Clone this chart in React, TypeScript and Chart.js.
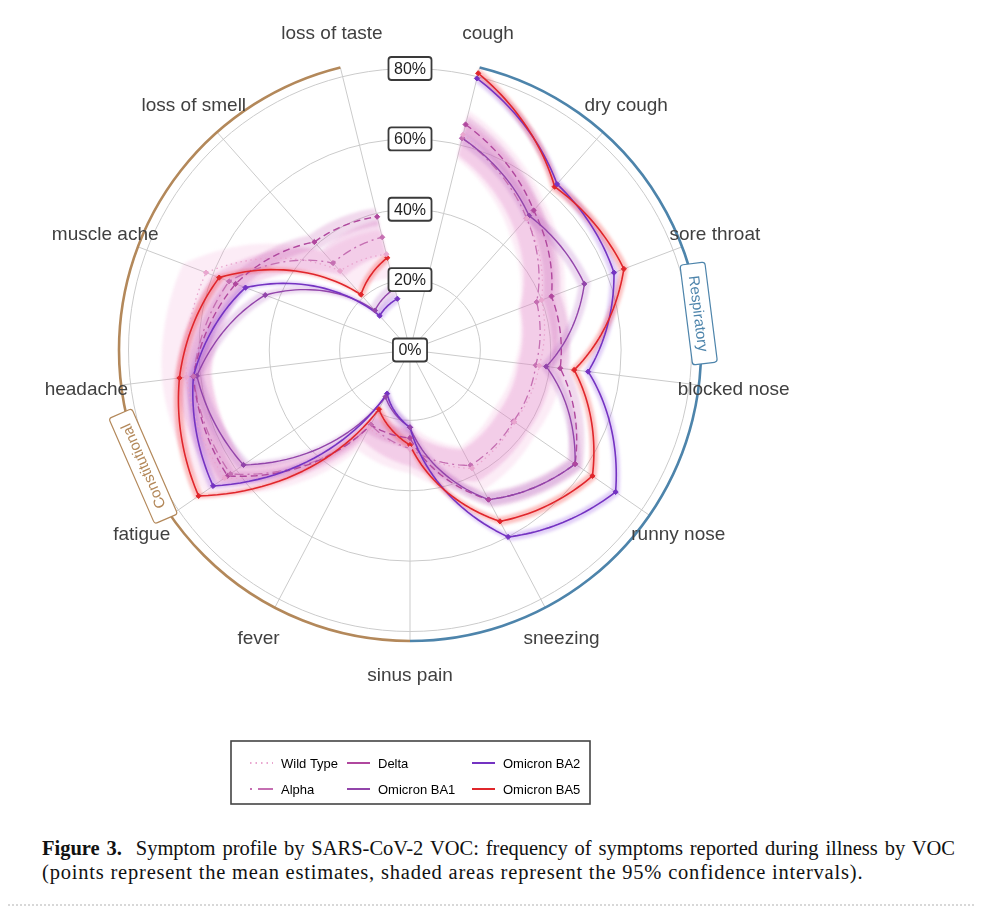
import React, { useEffect, useRef } from "react";
import { Chart, registerables } from "chart.js";

Chart.register(...registerables);

// ---------------- data ----------------
const symptoms = [
  "cough", "dry cough", "sore throat", "blocked nose", "runny nose", "sneezing",
  "sinus pain", "fever", "fatigue", "headache", "muscle ache", "loss of smell", "loss of taste",
];
const variantNames = ["Wild Type", "Alpha", "Delta", "Omicron BA1", "Omicron BA2", "Omicron BA5"];

const wildType = [63, 50, 40, 37, 36, 38, 28, 25, 64, 64, 62, 30, 28];
const alpha = [62, 50, 38.5, 36, 35.7, 37, 28, 24, 62, 62, 55, 33, 33];
const delta = [66, 53, 43, 43, 57, 48, 25, 24, 63, 62, 53, 41, 39];
const omicronBA1 = [62, 51, 53, 39, 57, 48, 22, 15, 57.5, 61, 44, 15, 18];
const omicronBA2 = [79.5, 63, 62, 51, 71, 60, 22, 14, 68, 62, 50, 13, 15];
const omicronBA5 = [81, 62, 65, 47, 63, 55, 27, 19, 73, 66, 58, 21, 27];

// 95% CI half widths (percentage points) per variant
const ciHalfWidth = [7, 5, 2.5, 1.8, 1.3, 1.3];

const tickValues = [0, 20, 40, 60, 80];
const groupNames = ["Respiratory", "Constitutional"];

// ---------------- styles ----------------
const lineColors = ["#e9a6cf", "#c56fb2", "#b0479e", "#9245aa", "#7433c2", "#e0262b"];
const bandColors = [
  "rgba(240,150,205,0.18)",
  "rgba(220,115,195,0.26)",
  "rgba(190,80,175,0.22)",
  "rgba(170,80,185,0.22)",
  "rgba(140,70,225,0.26)",
  "rgba(245,60,60,0.32)",
];
const lineDashes: number[][] = [[1.5, 3.5], [9, 4, 2, 4], [7, 4], [], [], []];
const lineWidths = [1.3, 1.3, 1.4, 1.4, 1.6, 1.6];
const seriesValues = [wildType, alpha, delta, omicronBA1, omicronBA2, omicronBA5];

const groupStyle = [
  { color: "#4d84ab", from: 0, to: 6, labelAt: 2.49 },
  { color: "#b3885a", from: 6, to: 12, labelAt: 8.4 },
];

const FONT = "'Liberation Sans', Arial, sans-serif";

// open path in polar space (straight in data space => spiral on screen)
function tracePolar(ctx: CanvasRenderingContext2D, s: any, vals: number[], reverse: boolean, start: boolean) {
  const n = vals.length;
  const steps = 24;
  const pts: { x: number; y: number }[] = [];
  for (let i = 0; i < n - 1; i++) {
    const a = vals[i];
    const b = vals[i + 1];
    for (let j = 0; j < steps; j++) {
      const t = j / steps;
      pts.push(s.getPointPositionForValue(i + t, a + (b - a) * t));
    }
  }
  pts.push(s.getPointPositionForValue(n - 1, vals[n - 1]));
  if (reverse) pts.reverse();
  pts.forEach((p, k) => (k === 0 && start ? ctx.moveTo(p.x, p.y) : ctx.lineTo(p.x, p.y)));
}

function roundRect(ctx: CanvasRenderingContext2D, x: number, y: number, w: number, h: number, r: number) {
  ctx.beginPath();
  ctx.moveTo(x + r, y);
  ctx.lineTo(x + w - r, y);
  ctx.arcTo(x + w, y, x + w, y + r, r);
  ctx.lineTo(x + w, y + h - r);
  ctx.arcTo(x + w, y + h, x + w - r, y + h, r);
  ctx.lineTo(x + r, y + h);
  ctx.arcTo(x, y + h, x, y + h - r, r);
  ctx.lineTo(x, y + r);
  ctx.arcTo(x, y, x + r, y, r);
  ctx.closePath();
}

const polarPlugin = {
  id: "polarPaths",
  beforeDatasetsDraw(chart: any) {
    const s = chart.scales.r;
    const ctx: CanvasRenderingContext2D = chart.ctx;
    const R = s.drawingArea;

    // group arcs
    groupStyle.forEach((g) => {
      const a0 = s.getPointPosition(g.from, R).angle;
      let a1 = s.getPointPosition(g.to, R).angle;
      if (a1 < a0) a1 += Math.PI * 2;
      ctx.save();
      ctx.beginPath();
      ctx.arc(s.xCenter, s.yCenter, R, a0, a1);
      ctx.strokeStyle = g.color;
      ctx.lineWidth = 2.6;
      ctx.stroke();
      ctx.restore();
    });

    // confidence bands
    seriesValues.forEach((vals, k) => {
      const w = ciHalfWidth[k];
      const hi = vals.map((v) => v + w);
      const lo = vals.map((v) => Math.max(0, v - w));
      ctx.save();
      ctx.filter = "blur(1.5px)";
      ctx.beginPath();
      tracePolar(ctx, s, hi, false, true);
      tracePolar(ctx, s, lo, true, false);
      ctx.closePath();
      ctx.fillStyle = bandColors[k];
      ctx.fill();
      ctx.restore();
    });

    // mean lines
    seriesValues.forEach((vals, k) => {
      ctx.save();
      ctx.beginPath();
      tracePolar(ctx, s, vals, false, true);
      ctx.strokeStyle = lineColors[k];
      ctx.lineWidth = lineWidths[k];
      ctx.setLineDash(lineDashes[k]);
      ctx.lineJoin = "round";
      ctx.stroke();
      ctx.restore();
    });
  },
  afterDatasetsDraw(chart: any) {
    const s = chart.scales.r;
    const ctx: CanvasRenderingContext2D = chart.ctx;
    const R = s.drawingArea;

    // tick label boxes
    ctx.save();
    ctx.font = `16px ${FONT}`;
    ctx.textAlign = "center";
    ctx.textBaseline = "middle";
    tickValues.forEach((v) => {
      const y = s.yCenter - s.getDistanceFromCenterForValue(v);
      const txt = `${v}%`;
      const tw = ctx.measureText(txt).width;
      const bw = tw + 11;
      const bh = 23;
      roundRect(ctx, s.xCenter - bw / 2, y - bh / 2, bw, bh, 3);
      ctx.fillStyle = "#ffffff";
      ctx.fill();
      ctx.lineWidth = 1.8;
      ctx.strokeStyle = "#3a3a3a";
      ctx.stroke();
      ctx.fillStyle = "#1e1e1e";
      ctx.fillText(txt, s.xCenter, y + 1);
    });
    ctx.restore();

    // point labels
    ctx.save();
    ctx.font = `19px ${FONT}`;
    ctx.textAlign = "center";
    ctx.textBaseline = "middle";
    ctx.fillStyle = "#404040";
    symptoms.forEach((lab, i) => {
      const p = s.getPointPosition(i, R + 35);
      ctx.fillText(lab, p.x, p.y);
    });
    ctx.restore();

    // group labels
    groupStyle.forEach((g, k) => {
      const p = s.getPointPosition(g.labelAt, R);
      ctx.save();
      ctx.translate(p.x, p.y);
      ctx.rotate(p.angle + Math.PI / 2);
      ctx.font = `15px ${FONT}`;
      const tw = ctx.measureText(groupNames[k]).width;
      const bw = tw + 24;
      const bh = 25;
      roundRect(ctx, -bw / 2, -bh / 2, bw, bh, 3);
      ctx.fillStyle = "#ffffff";
      ctx.fill();
      ctx.lineWidth = 1.2;
      ctx.strokeStyle = g.color;
      ctx.stroke();
      ctx.fillStyle = g.color;
      ctx.textAlign = "center";
      ctx.textBaseline = "middle";
      ctx.fillText(groupNames[k], 0, 1);
      ctx.restore();
    });

    // legend
    ctx.save();
    ctx.lineWidth = 1.6;
    ctx.strokeStyle = "#444";
    ctx.strokeRect(223, 733, 359, 63);
    const cols = [242, 339, 464];
    const rows = [755, 781];
    ctx.font = `13px ${FONT}`;
    ctx.textBaseline = "middle";
    ctx.textAlign = "left";
    variantNames.forEach((name, k) => {
      const c = Math.floor(k / 2);
      const r = k % 2;
      const x0 = cols[c];
      const y = rows[r];
      ctx.beginPath();
      ctx.moveTo(x0, y);
      ctx.lineTo(x0 + 23, y);
      ctx.strokeStyle = lineColors[k];
      ctx.lineWidth = 2;
      ctx.setLineDash(k === 0 ? [1.5, 4] : k === 1 ? [2, 6, 15] : []);
      ctx.stroke();
      ctx.setLineDash([]);
      ctx.fillStyle = "#000";
      ctx.fillText(name, x0 + 31, y + 1);
    });
    ctx.restore();
  },
};

export default function App() {
  const ref = useRef<HTMLCanvasElement | null>(null);

  useEffect(() => {
    if (!ref.current) return;
    const chart = new Chart(ref.current, {
      type: "radar",
      data: {
        labels: symptoms,
        datasets: seriesValues.map((vals, k) => ({
          label: variantNames[k],
          data: vals,
          showLine: false,
          fill: false,
          borderWidth: 0,
          backgroundColor: "transparent",
          borderColor: lineColors[k],
          pointStyle: "rectRot",
          pointRadius: 2.6,
          pointBorderWidth: 1,
          pointBackgroundColor: lineColors[k],
          pointBorderColor: lineColors[k],
        })),
      },
      options: {
        animation: false,
        responsive: false,
        events: [],
        layout: { padding: { left: 111, top: 51, right: 273, bottom: 174 } },
        plugins: { legend: { display: false }, tooltip: { enabled: false } },
        scales: {
          r: {
            min: 0,
            max: 82.7,
            startAngle: 360 / 26,
            afterBuildTicks: (sc: any) => {
              sc.ticks = sc.ticks.filter((t: any) => tickValues.includes(t.value));
            },
            ticks: { display: false, stepSize: 20 },
            pointLabels: { display: false },
            grid: { circular: true, color: "#cbcbcb", lineWidth: 1 },
            angleLines: { color: "#cbcbcb", lineWidth: 1 },
          },
        },
      } as any,
      plugins: [polarPlugin as any],
    });
    return () => chart.destroy();
  }, []);

  const capFont = "'Liberation Serif', 'Times New Roman', serif";
  return (
    <div style={{ position: "relative", width: 966, height: 900 }}>
      <canvas ref={ref} width={966} height={807} style={{ display: "block", width: 966, height: 807 }} />
      <div
        style={{
          position: "absolute",
          left: 34,
          top: 828,
          width: 913,
          fontFamily: capFont,
          fontSize: 20.5,
          lineHeight: "24px",
          color: "#111",
        }}
      >
        <div style={{ whiteSpace: "nowrap", textAlign: "justify", textAlignLast: "justify" } as any}>
          <b>Figure 3.</b>&nbsp; Symptom profile by SARS-CoV-2 VOC: frequency of symptoms reported during illness by VOC
        </div>
        <div style={{ whiteSpace: "nowrap", letterSpacing: 0.8 }}>
          (points represent the mean estimates, shaded areas represent the 95% confidence intervals).
        </div>
      </div>
      <div
        style={{
          position: "absolute",
          left: -8,
          top: 896,
          width: 982,
          borderTop: "2px dotted #d8d8d8",
        }}
      />
    </div>
  );
}
